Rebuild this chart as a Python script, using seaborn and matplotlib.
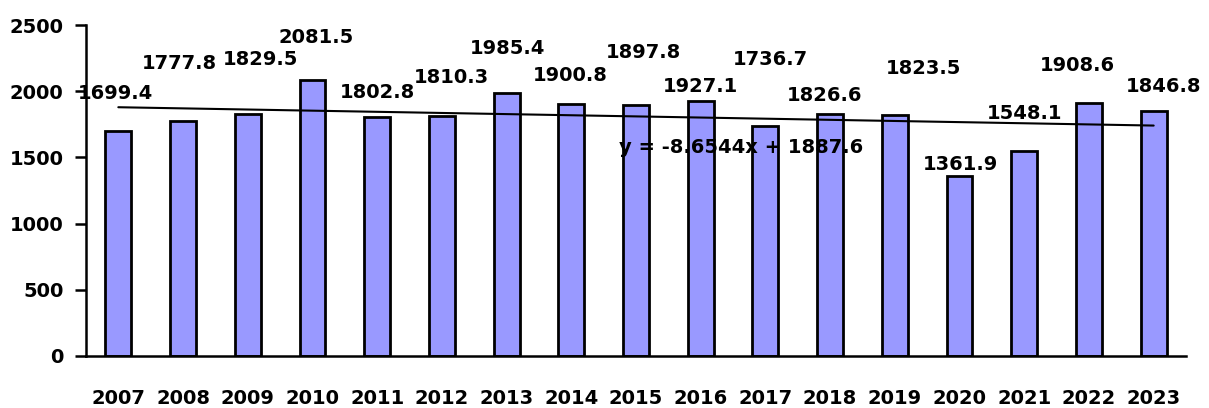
import numpy as np
import matplotlib.pyplot as plt
import seaborn as sns

years = [str(y) for y in range(2007, 2024)]
values = [1699.4, 1777.8, 1829.5, 2081.5, 1802.8, 1810.3, 1985.4, 1900.8, 1897.8,
          1927.1, 1736.7, 1826.6, 1823.5, 1361.9, 1548.1, 1908.6, 1846.8]
trend_slope = -8.6544
trend_intercept = 1887.6
trend_label = "y = -8.6544x + 1887.6"

# where the value labels sit (x in category units, y in data units)
label_x = [-0.04, 0.95, 2.2, 3.05, 4.01, 5.14, 6.02, 6.98, 8.11, 8.99,
           10.07, 10.92, 12.44, 13.02, 14.0, 14.82, 16.15]
label_y = [1994, 2221, 2251, 2417, 2009, 2122, 2334, 2137, 2304, 2047,
           2251, 1986, 2183, 1465, 1850, 2213, 2047]

sns.set_style("white")
plt.rcParams['font.family'] = ['DejaVu Sans']
plt.rcParams['font.weight'] = 'bold'
plt.rcParams['text.color'] = 'black'
plt.rcParams['xtick.color'] = 'black'
plt.rcParams['ytick.color'] = 'black'

fig = plt.figure(figsize=(12.09, 4.08), dpi=100)
ax = fig.add_axes([0.0711, 0.1275, 0.9099, 0.8112])

sns.barplot(x=years, y=values, color='#9999FF', saturation=1, width=0.4,
            edgecolor='black', linewidth=2.0, ax=ax)

xs = np.arange(1, len(values) + 1)
ax.plot(xs - 1, trend_slope * xs + trend_intercept, color='black', lw=1.5)

for lx, ly, v in zip(label_x, label_y, values):
    ax.text(lx, ly, f"{v:.1f}", ha='center', va='center_baseline', fontsize=14, fontweight='bold')
ax.text(9.62, 1590, trend_label, ha='center', va='center_baseline', fontsize=14, fontweight='bold')

ax.set_xlim(-0.5, len(values) - 0.5)
ax.set_ylim(0, 2500)
ax.set_yticks(range(0, 2501, 500))
ax.set_xticks(np.arange(-0.5, len(values), 1), minor=True)
ax.tick_params(axis='x', which='major', length=0, pad=24, labelsize=14)
ax.tick_params(axis='x', which='minor', length=8, width=1.8, direction='out')
ax.tick_params(axis='y', length=8, width=1.8, direction='out', pad=8, labelsize=14)
ax.tick_params(left=True)
for lab in ax.get_xticklabels() + ax.get_yticklabels():
    lab.set_fontweight('bold')

for s in ['top', 'right']:
    ax.spines[s].set_visible(False)
for s in ['left', 'bottom']:
    ax.spines[s].set_linewidth(1.8)
    ax.spines[s].set_color('black')
ax.set_xlabel('')
ax.set_ylabel('')

fig.savefig('out.png', dpi=100)
